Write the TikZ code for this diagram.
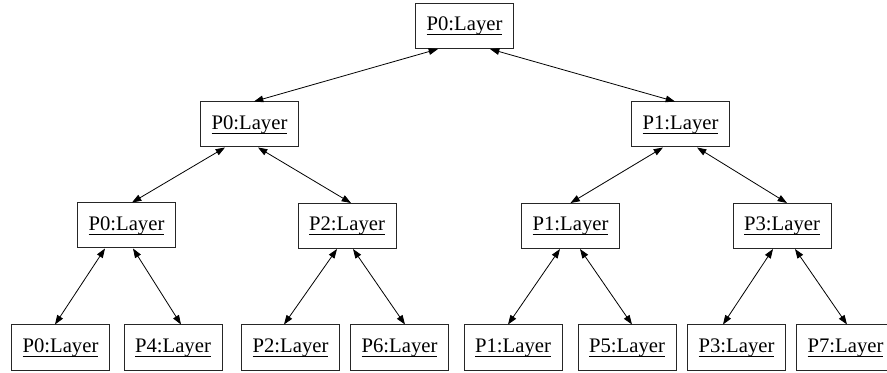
\documentclass[tikz,border=0pt]{standalone}
\usepackage{fontspec}
\setmainfont{Liberation Serif}
\usetikzlibrary{arrows.meta,calc}
\newcommand\undl[1]{\setbox0\hbox{#1}\rlap{\rule[-0.2em]{\wd0}{0.5pt}}\box0}
\begin{document}
\begin{tikzpicture}[x=0.75pt,y=-0.75pt,
  lay/.style={draw=black!85,line width=0.75pt,minimum width=73.5pt,minimum height=33.75pt,inner sep=0pt,font=\fontsize{15.5}{18}\selectfont},
  link/.style={{Triangle[length=7pt,width=5pt]}-{Triangle[length=7pt,width=5pt]},line width=0.6pt}]
\useasboundingbox (0,0) rectangle (887,373);
% level 0
\node[lay] (r) at (464.5,26) {\undl{P0:Layer}};
% level 1
\node[lay] (a) at (249.5,124.5) {\undl{P0:Layer}};
\node[lay] (b) at (680.5,124.5) {\undl{P1:Layer}};
% level 2
\node[lay] (c) at (126.5,225.5) {\undl{P0:Layer}};
\node[lay] (d) at (347,226) {\undl{P2:Layer}};
\node[lay] (e) at (570.5,226) {\undl{P1:Layer}};
\node[lay] (f) at (782,226) {\undl{P3:Layer}};
% level 3
\node[lay] (g0) at (60.5,347.5) {\undl{P0:Layer}};
\node[lay] (g4) at (173,347.5) {\undl{P4:Layer}};
\node[lay] (g2) at (290.5,347.5) {\undl{P2:Layer}};
\node[lay] (g6) at (399.5,347.5) {\undl{P6:Layer}};
\node[lay] (g1) at (513,347.5) {\undl{P1:Layer}};
\node[lay] (g5) at (627,347.5) {\undl{P5:Layer}};
\node[lay] (g3) at (736.5,347.5) {\undl{P3:Layer}};
\node[lay] (g7) at (845.5,347.5) {\undl{P7:Layer}};
% links
\draw[link] ($(r.south)+(-26.5,0)$) -- ($(a.north)+(4.5,0)$);
\draw[link] ($(r.south)+(25.5,0)$) -- ($(b.north)+(-5.5,0)$);
\draw[link] ($(a.south)+(-24.5,0)$) -- ($(c.north)+(5.5,0)$);
\draw[link] ($(a.south)+(8.5,0)$) -- ($(d.north)+(4,0)$);
\draw[link] ($(b.south)+(-17.5,0)$) -- ($(e.north)+(0,0)$);
\draw[link] ($(b.south)+(16.5,0)$) -- ($(f.north)+(5,0)$);
\draw[link] ($(c.south)+(-21.5,0)$) -- ($(g0.north)+(-5.5,0)$);
\draw[link] ($(c.south)+(6.5,0)$) -- ($(g4.north)+(8,0)$);
\draw[link] ($(d.south)+(-10,0)$) -- ($(g2.north)+(-6.5,0)$);
\draw[link] ($(d.south)+(6,0)$) -- ($(g6.north)+(5.5,0)$);
\draw[link] ($(e.south)+(-10.5,0)$) -- ($(g1.north)+(-5,0)$);
\draw[link] ($(e.south)+(9.5,0)$) -- ($(g5.north)+(5,0)$);
\draw[link] ($(f.south)+(-9,0)$) -- ($(g3.north)+(-13.5,0)$);
\draw[link] ($(f.south)+(13,0)$) -- ($(g7.north)+(1.5,0)$);
\end{tikzpicture}
\end{document}
